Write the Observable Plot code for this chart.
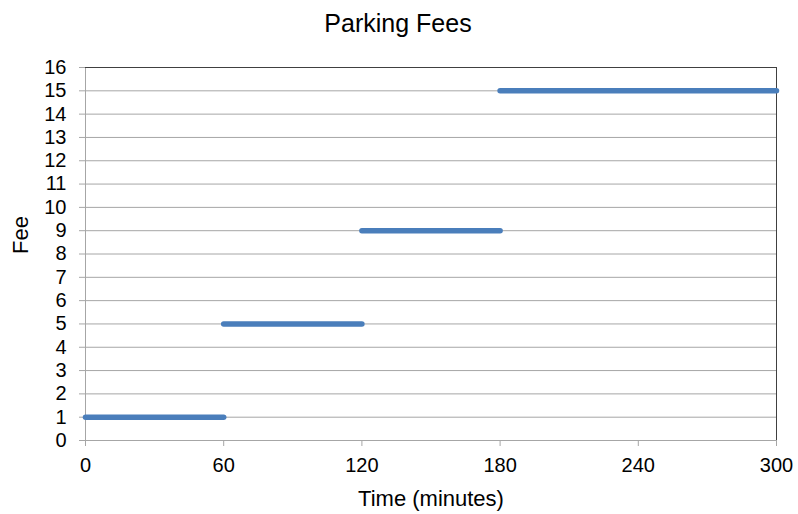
<!DOCTYPE html>
<html>
<head>
<meta charset="utf-8">
<script src="https://cdn.jsdelivr.net/npm/d3@7"></script>
<script src="https://cdn.jsdelivr.net/npm/@observablehq/plot@0.6"></script>
<style>
  html, body { margin: 0; padding: 0; background: #fff; }
  body { width: 798px; height: 514px; overflow: hidden; }
</style>
</head>
<body>
<div id="chart"></div>
<script>
const startMinutes = [0, 60, 120, 180];
const endMinutes = [60, 120, 180, 300];
const fees = [1, 5, 9, 15];
const xTicks = [0, 60, 120, 180, 240, 300];
const yTicks = d3.range(0, 17);
const title = "Parking Fees";
const xLabel = "Time (minutes)";
const yLabel = "Fee";

const segments = startMinutes.map((s, i) => ({start: s, end: endMinutes[i], fee: fees[i]}));

const chart = Plot.plot({
  width: 798,
  height: 514,
  marginLeft: 85,
  marginRight: 22,
  marginTop: 67,
  marginBottom: 74,
  style: {fontFamily: "'Liberation Sans', Arial, sans-serif", fontSize: "20px", color: "#000", background: "#fff"},
  x: {domain: [0, 300]},
  y: {domain: [0, 16]},
  marks: [
    Plot.ruleY(yTicks, {stroke: "#a6a6a6", strokeWidth: 1}),
    Plot.ruleX([0], {stroke: "#a6a6a6", strokeWidth: 1}),
    Plot.ruleY([16], {stroke: "#404040", strokeWidth: 1}),
    Plot.ruleX([300], {stroke: "#404040", strokeWidth: 1}),
    Plot.axisY({ticks: yTicks, tickSize: 6, tickPadding: 13, stroke: "#a6a6a6", strokeOpacity: 1, label: null, fontSize: 20, fill: "#000"}),
    Plot.axisX({ticks: xTicks, tickSize: 6, tickPadding: 11, stroke: "#a6a6a6", strokeOpacity: 1, label: null, fontSize: 20, fill: "#000"}),
    Plot.link(segments, {x1: "start", x2: "end", y1: "fee", y2: "fee", stroke: "#4a7ebb", strokeWidth: 5.5, strokeLinecap: "round"}),
    Plot.text([title], {frameAnchor: "top", dx: -33, dy: -53, fontSize: 25, fill: "#000"}),
    Plot.text([xLabel], {frameAnchor: "bottom", dy: 65, fontSize: 22, fill: "#000"}),
    Plot.text([yLabel], {frameAnchor: "left", dx: -65, rotate: -90, fontSize: 22, fill: "#000"})
  ]
});
document.getElementById("chart").appendChild(chart);
</script>
</body>
</html>
